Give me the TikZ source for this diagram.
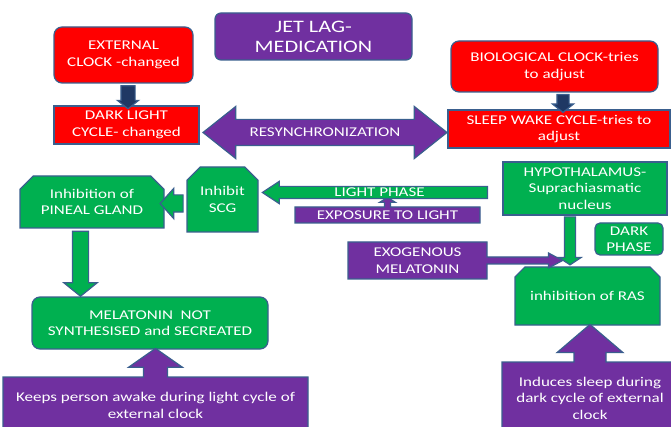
\documentclass[tikz,border=0pt]{standalone}
\usepackage{fontspec}
\setmainfont{Carlito}[FakeStretch=1.27]
\usepackage{xcolor}
\definecolor{lagred}{HTML}{FF0000}
\definecolor{laggreen}{HTML}{00B050}
\definecolor{lagpurple}{HTML}{7030A0}
\definecolor{lagnavy}{HTML}{1F3864}
\definecolor{edgeblue}{HTML}{3A5F8E}
\usetikzlibrary{shapes.arrows,shapes.misc}
\tikzset{
  basebox/.style={
    draw=edgeblue, line width=1.2pt, text=white, align=center,
    inner sep=2pt, font=\fontsize{13.4}{16.5}\selectfont
  },
  redbox/.style={basebox, rectangle, fill=lagred},
  greenbox/.style={basebox, rectangle, fill=laggreen},
  purplebox/.style={basebox, rectangle, fill=lagpurple},
  snipbox/.style={
    basebox, fill=laggreen, chamfered rectangle,
    chamfered rectangle corners={north west,north east},
    chamfered rectangle xsep=10pt, chamfered rectangle angle=45
  },
  calloutbox/.style={
    basebox, fill=lagpurple, arrow box, arrow box head indent=0pt
  },
  blockarrow/.style={
    single arrow, draw=edgeblue, line width=1.2pt, inner xsep=0pt,
    text height=0pt, text depth=0pt
  },
  navyarrow/.style={blockarrow, fill=lagnavy, rotate=-90},
  greenarrow/.style={blockarrow, fill=laggreen}
}

\begin{document}
\begin{tikzpicture}[x=1pt,y=-1pt]
  \useasboundingbox (0,0) rectangle (671,427);

  \node[purplebox, rounded corners=6pt, minimum width=197pt, minimum height=47pt,
    font=\fontsize{17.5}{20}\selectfont] (title) at (313.5,36.5) {JET LAG-\\MEDICATION};

  \node[redbox, rounded corners=8pt, minimum width=139pt, minimum height=56pt] (extclock) at (123.5,55) {EXTERNAL\\CLOCK -changed};
  \node[redbox, minimum width=145pt, minimum height=38pt] (darklight) at (126.5,125) {DARK LIGHT\\CYCLE- changed};
  \node[redbox, rounded corners=8pt, minimum width=207pt, minimum height=51pt] (bioclock) at (554.5,66.5) {BIOLOGICAL CLOCK-tries\\to adjust};
  \node[redbox, minimum width=222pt, minimum height=38pt] (sleepwake) at (559,129) {SLEEP WAKE CYCLE-tries to\\adjust};

  \node[snipbox, minimum width=144pt, minimum height=52pt] (pineal) at (92,202) {Inhibition of\\PINEAL GLAND};
  \node[snipbox, minimum width=71pt, minimum height=65pt] (scg) at (222.5,199.5) {Inhibit\\SCG};
  \node[greenbox, minimum width=164pt, minimum height=53pt] (hypo) at (585,188.5) {HYPOTHALAMUS-\\Suprachiasmatic\\nucleus};
  \node[greenbox, rounded corners=5pt, minimum width=68pt, minimum height=32pt] (darkphase) at (629,239) {DARK\\PHASE};
  \node[greenbox, rounded corners=8pt, minimum width=236pt, minimum height=52pt] (melatonin) at (150,323) {MELATONIN~ NOT\\SYNTHESISED and SECREATED};
  \node[snipbox, minimum width=145pt, minimum height=58pt] (ras) at (587.5,296) {inhibition of RAS};

  \node[calloutbox, minimum width=185pt, minimum height=16pt, inner sep=0pt,
    text height=8.4pt, text depth=0pt, arrow box arrows={north:9pt},
    arrow box shaft width=6pt, arrow box head extend=5pt, arrow box tip angle=116] (exposure) at (387.5,215) {EXPOSURE TO LIGHT};
  \node[calloutbox, minimum width=139pt, minimum height=37pt, arrow box arrows={east:75pt},
    arrow box shaft width=7pt, arrow box head extend=4pt, arrow box tip angle=56] (exogenous) at (417.5,260.5) {EXOGENOUS\\MELATONIN};
  \node[calloutbox, minimum width=305pt, minimum height=57pt, arrow box arrows={north:28pt},
    arrow box shaft width=24pt, arrow box head extend=15pt, arrow box tip angle=110] (awake) at (155.5,405.5) {Keeps person awake during light cycle of\\external clock};
  \node[calloutbox, minimum width=176pt, minimum height=72pt, arrow box arrows={north:37pt},
    arrow box shaft width=32pt, arrow box head extend=17pt, arrow box tip angle=99] (sleep) at (590,398) {Induces sleep during\\dark cycle of external\\clock};

  \node[double arrow, draw=edgeblue, line width=1.2pt, fill=lagpurple, text=white,
    font=\fontsize{13.4}{16.5}\selectfont, text height=8.4pt, text depth=0pt,
    inner ysep=8.3pt, inner xsep=0pt, minimum height=244pt, minimum width=51pt,
    double arrow head extend=13pt, double arrow tip angle=77] (resync) at (325,132.5) {RESYNCHRONIZATION};

  \node[navyarrow, minimum height=23pt, minimum width=20pt, inner ysep=6.5pt,
    single arrow head extend=3.5pt, single arrow tip angle=103] (extdown) at (128,94.5) {};
  \node[navyarrow, minimum height=18pt, minimum width=20pt, inner ysep=5.5pt,
    single arrow head extend=4.5pt, single arrow tip angle=103] (biodown) at (563,101) {};

  \node[greenarrow, shape border rotate=180, minimum height=225pt, minimum width=21pt,
    inner ysep=1.3pt, text height=8.4pt, font=\fontsize{13.4}{16.5}\selectfont, text=white,
    single arrow head extend=5pt, single arrow tip angle=67] (lightphase) at (379.5,192.5) {LIGHT PHASE};
  \node[greenarrow, shape border rotate=180, minimum height=23pt, minimum width=29pt,
    inner ysep=8pt, single arrow head extend=6.5pt, single arrow tip angle=96] (scgleft) at (175.5,203.5) {};
  \node[greenarrow, rotate=-90, minimum height=65pt, minimum width=32pt, inner ysep=7.5pt,
    single arrow head extend=8.5pt, single arrow tip angle=102] (pinealdown) at (80.5,260.5) {};
  \node[greenarrow, rotate=-90, minimum height=48pt, minimum width=21pt, inner ysep=5pt,
    single arrow head extend=5.5pt, single arrow tip angle=113] (hypodown) at (570,239) {};
\end{tikzpicture}
\end{document}
